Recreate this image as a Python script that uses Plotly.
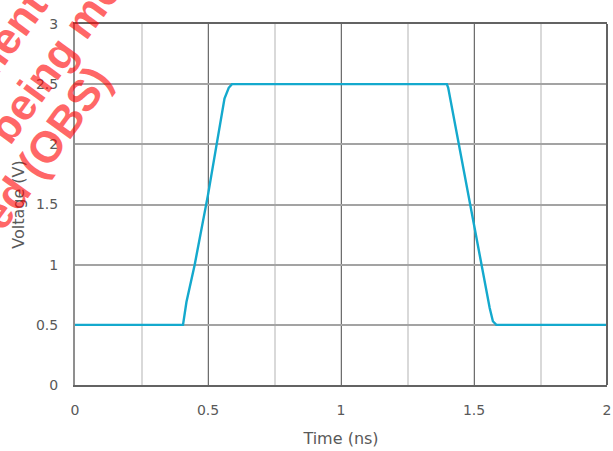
import plotly.graph_objects as go

# ---- data ----
time_ns = [0.0, 0.406, 0.419, 0.45, 0.50, 0.532, 0.562, 0.578, 0.590, 0.600,
           1.398, 1.403, 1.44, 1.49, 1.527, 1.559, 1.571, 1.584, 2.0]
voltage_v = [0.5, 0.5, 0.69, 1.0, 1.58, 2.0, 2.38, 2.47, 2.50, 2.50,
             2.50, 2.47, 2.03, 1.44, 1.0, 0.64, 0.53, 0.5, 0.5]

x_ticks = [0, 0.5, 1, 1.5, 2]
x_tick_text = ["0", "0.5", "1", "1.5", "2"]
y_ticks = [0, 0.5, 1, 1.5, 2, 2.5, 3]
y_tick_text = ["0", "0.5", "1", "1.5", "2", "2.5", "3"]

x_title = "Time (ns)"
y_title = "Voltage (V)"

watermark_lines = ["Document content", "being modified", "Archived (OBS)"]
watermark_pos = [(-0.0966, 1.0302), (0.0276, 1.0368), (-0.1301, 0.5042)]

tick_font = dict(family="DejaVu Sans", size=14, color="#595959")
title_font = dict(family="DejaVu Sans", size=16, color="#595959")

fig = go.Figure()
fig.add_trace(go.Scatter(
    x=time_ns, y=voltage_v, mode="lines",
    line=dict(color="#14a9cd", width=2.4),
    showlegend=False, hoverinfo="skip",
))

fig.update_layout(
    width=613, height=451,
    margin=dict(l=75, r=6, t=24, b=66),
    paper_bgcolor="white", plot_bgcolor="white",
    xaxis=dict(
        range=[0, 2], tickvals=x_ticks, ticktext=x_tick_text, automargin=False,
        showgrid=True, gridcolor="#6e6e6e", gridwidth=1,
        minor=dict(dtick=0.25, tick0=0, showgrid=True, gridcolor="#d9d9d9", gridwidth=2),
        zeroline=False, showline=True, linecolor="#636363", linewidth=2, mirror=True,
        ticks="", tickfont=tick_font, ticklabelstandoff=11,
        title=dict(text=x_title, font=title_font, standoff=16),
    ),
    yaxis=dict(
        range=[0, 3], tickvals=y_ticks, ticktext=y_tick_text, automargin=False,
        showgrid=True, gridcolor="#a3a3a3", gridwidth=1.5,
        zeroline=False, showline=True, linecolor="#8f8f8f", linewidth=2,
        ticks="", tickfont=tick_font, ticklabelstandoff=12,
        title=dict(text=y_title, font=title_font, standoff=7),
    ),
    shapes=[dict(type="line", xref="paper", yref="paper", x0=1, x1=1, y0=0, y1=1,
                 line=dict(color="#636363", width=2))],
)

for txt, (px, py) in zip(watermark_lines, watermark_pos):
    fig.add_annotation(
        text=txt, xref="paper", yref="paper", x=px, y=py,
        xanchor="center", yanchor="middle", showarrow=False, textangle=-54,
        font=dict(family="Liberation Sans", size=44, color="rgba(255,0,0,0.6)", weight="bold"),
    )

fig.write_html("out.html", config={"displayModeBar": False},
               post_script="document.body.style.margin='0';document.body.style.overflow='hidden';")
